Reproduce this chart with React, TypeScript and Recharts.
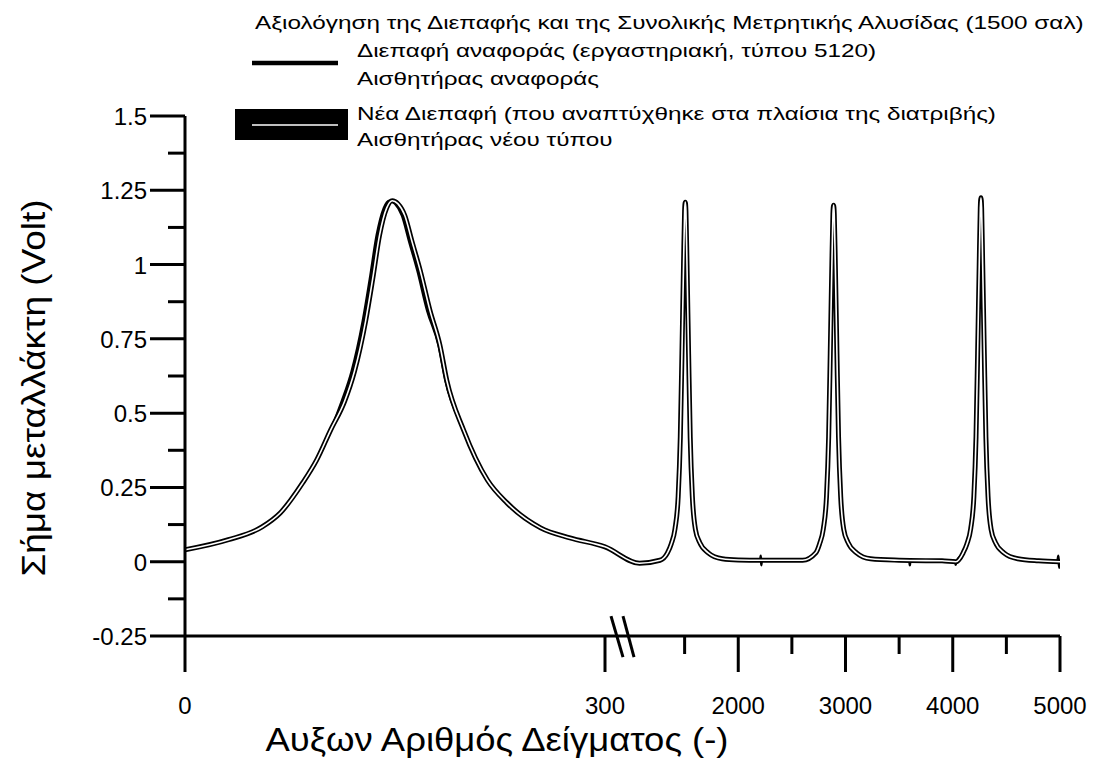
import { LineChart, Line, XAxis, YAxis, ReferenceLine } from "recharts";

const FONT = "'Liberation Sans', Arial, Helvetica, sans-serif";

// x axis is broken: 0-300 on the left part, 1000-5000 on the right part
const LEFT_MAX = 300;
const RIGHT_MIN = 1000;
const RIGHT_MAX = 5000;

const xTickValues = [0, 300, 1500, 2000, 2500, 3000, 3500, 4000, 4500, 5000];
const xTickLabels = ["0", "300", "", "2000", "", "3000", "", "4000", "", "5000"];

const yTickValues = [-0.25, -0.125, 0, 0.125, 0.25, 0.375, 0.5, 0.625, 0.75, 0.875, 1, 1.125, 1.25, 1.375, 1.5];
const yTickLabels = ["-0.25", "", "0", "", "0.25", "", "0.5", "", "0.75", "", "1", "", "1.25", "", "1.5"];

// [sample, volt] — new interface / new sensor
const newLeft: [number, number][] = [
  [0, 0.04], [31, 0.074], [55, 0.117], [68, 0.164], [84, 0.265], [94, 0.342], [104, 0.443],
  [114, 0.54], [121, 0.64], [129, 0.81], [134, 0.95], [139, 1.1], [144, 1.19], [148, 1.215],
  [152, 1.205], [157, 1.165], [162, 1.08], [168, 0.98], [175, 0.845], [182, 0.73], [187, 0.61],
  [199, 0.443], [216, 0.275], [230, 0.198], [254, 0.114], [275, 0.08], [300, 0.05],
];
const newRight: [number, number][] = [
  [1080, -0.005], [1270, 0.005], [1340, 0.03], [1375, 0.06], [1410, 0.11], [1440, 0.22],
  [1460, 0.42], [1475, 0.7], [1490, 1.0], [1500, 1.18], [1506, 1.21], [1512, 1.18], [1522, 1.0],
  [1537, 0.7], [1552, 0.42], [1572, 0.22], [1600, 0.11], [1640, 0.065], [1720, 0.03], [1850, 0.01],
  [2000, 0.006], [2210, 0.005], [2600, 0.005],
  [2723, 0.03], [2758, 0.06], [2793, 0.11], [2823, 0.22], [2843, 0.42], [2858, 0.7], [2873, 1.0],
  [2883, 1.17], [2889, 1.2], [2895, 1.17], [2905, 1.0], [2920, 0.7], [2935, 0.42], [2955, 0.22],
  [2983, 0.11], [3023, 0.065], [3103, 0.03], [3233, 0.01], [3500, 0.005], [3600, 0.004],
  [3900, 0.003], [4030, 0.0],
  [4097, 0.03], [4132, 0.06], [4167, 0.11], [4197, 0.22], [4217, 0.42], [4232, 0.7], [4247, 1.0],
  [4257, 1.19], [4263, 1.225], [4269, 1.19], [4279, 1.0], [4294, 0.7], [4309, 0.42], [4329, 0.22],
  [4357, 0.11], [4397, 0.065], [4477, 0.03], [4607, 0.01], [4800, 0.003], [5000, 0.0],
];

// [sample, volt] — reference interface / reference sensor
const refLeft: [number, number][] = [
  [0, 0.04], [31, 0.074], [55, 0.117], [68, 0.164], [84, 0.265], [94, 0.342], [104, 0.443],
  [112, 0.54], [119, 0.64], [127, 0.81], [132, 0.95], [137, 1.1], [142, 1.19], [146, 1.215],
  [150, 1.205], [155, 1.165], [160, 1.08], [166, 0.98], [173, 0.845], [181, 0.73], [186, 0.61],
  [199, 0.443], [216, 0.275], [230, 0.198], [254, 0.114], [275, 0.08], [300, 0.05],
];
const refRight: [number, number][] = [
  [1080, -0.005], [1270, 0.005], [1340, 0.03], [1375, 0.06], [1410, 0.11], [1440, 0.22],
  [1460, 0.42], [1475, 0.7], [1490, 1.0], [1500, 1.18], [1505, 1.205], [1511, 1.18], [1521, 1.0],
  [1536, 0.7], [1551, 0.42], [1571, 0.22], [1600, 0.11], [1640, 0.065], [1720, 0.03], [1850, 0.01],
  [2000, 0.006], [2205, 0.005], [2210, 0.02], [2215, -0.012], [2220, 0.005], [2600, 0.005],
  [2723, 0.03], [2758, 0.06], [2793, 0.11], [2823, 0.22], [2843, 0.42], [2858, 0.7], [2873, 1.0],
  [2883, 1.17], [2889, 1.2], [2895, 1.17], [2905, 1.0], [2920, 0.7], [2935, 0.42], [2955, 0.22],
  [2983, 0.11], [3023, 0.065], [3103, 0.03], [3233, 0.01], [3500, 0.005], [3595, 0.004],
  [3600, -0.012], [3605, 0.004], [3900, 0.003], [4022, 0.0], [4028, -0.01], [4034, 0.0],
  [4097, 0.03], [4132, 0.06], [4167, 0.11], [4197, 0.22], [4217, 0.42], [4232, 0.7], [4247, 1.0],
  [4257, 1.19], [4262, 1.222], [4268, 1.19], [4279, 1.0], [4294, 0.7], [4309, 0.42], [4329, 0.22],
  [4357, 0.11], [4397, 0.065], [4477, 0.03], [4607, 0.01], [4800, 0.003], [4975, 0.0],
  [4985, 0.02], [4992, -0.02], [5000, 0.0],
];

const legendTitle = "Αξιολόγηση της Διεπαφής και της Συνολικής Μετρητικής Αλυσίδας (1500 σαλ)";
const refLabel = ["Διεπαφή αναφοράς (εργαστηριακή, τύπου 5120)", "Αισθητήρας αναφοράς"];
const newLabel = ["Νέα Διεπαφή (που αναπτύχθηκε στα πλαίσια της διατριβής)", "Αισθητήρας νέου τύπου"];

// plot units along the x axis (1 unit = 1 px)
const LEFT_W = 420;
const RIGHT_START = 446;
const AXIS_END = 875;

function pos(x: number) {
  if (x <= LEFT_MAX) return (x / LEFT_MAX) * LEFT_W;
  return RIGHT_START + ((x - RIGHT_MIN) / (RIGHT_MAX - RIGHT_MIN)) * (AXIS_END - RIGHT_START);
}

const toRows = (pts: [number, number][]) => pts.map(([x, v]) => ({ pos: pos(x), v }));
const newData = toRows([...newLeft, ...newRight]);
const refData = toRows([...refLeft, ...refRight]);
const xTickPos = xTickValues.map(pos);

function XTick(props: any) {
  const { x, y, payload } = props;
  const i = xTickPos.findIndex((p) => Math.abs(p - payload.value) < 0.01);
  const label = xTickLabels[i] ?? "";
  const major = label !== "";
  return (
    <g>
      <line x1={x} y1={y} x2={x} y2={y + (major ? 36 : 18)} stroke="#000" strokeWidth={3} />
      {major && (
        <text x={x} y={y + 78} textAnchor="middle" fontSize={24} fontFamily={FONT} fill="#000">
          {label}
        </text>
      )}
    </g>
  );
}

function YTick(props: any) {
  const { x, y, payload } = props;
  const i = yTickValues.findIndex((v) => Math.abs(v - payload.value) < 1e-6);
  const label = yTickLabels[i] ?? "";
  const major = label !== "";
  return (
    <g>
      <line x1={x - (major ? 35 : 17)} y1={y} x2={x} y2={y} stroke="#000" strokeWidth={3} />
      {major && (
        <text x={x - 38} y={y + 9} textAnchor="end" fontSize={24} fontFamily={FONT} fill="#000">
          {label}
        </text>
      )}
    </g>
  );
}

// legend text is a wide face: draw at 18px and stretch horizontally
const WIDE = 1.35;
function WideText({ x, y, children }: { x: number; y: number; children: string }) {
  return (
    <text x={x} y={y} transform={`matrix(${WIDE},0,0,1,${(1 - WIDE) * x},0)`}>
      {children}
    </text>
  );
}

function LegendBox() {
  return (
    <svg width={1096} height={155} style={{ position: "absolute", left: 0, top: 0 }}>
      <g fontFamily={FONT} fill="#000" fontSize={18}>
        <WideText x={255} y={29}>{legendTitle}</WideText>
        <line x1={252} y1={63} x2={338} y2={63} stroke="#000" strokeWidth={4.5} />
        <WideText x={357} y={57}>{refLabel[0]}</WideText>
        <WideText x={357} y={85}>{refLabel[1]}</WideText>
        <rect x={235} y={109} width={113} height={31} fill="#000" />
        <line x1={252} y1={125} x2={338} y2={125} stroke="#fff" strokeWidth={1.5} />
        <WideText x={357} y={120}>{newLabel[0]}</WideText>
        <WideText x={357} y={146}>{newLabel[1]}</WideText>
      </g>
    </svg>
  );
}

export default function App() {
  return (
    <div style={{ position: "absolute", left: 0, top: 0, width: 1096, height: 760, background: "#fff" }}>
      <LineChart width={1096} height={760} margin={{ top: 116, right: 36, bottom: 0, left: 0 }}>
        <XAxis
          type="number"
          dataKey="pos"
          domain={[0, AXIS_END]}
          ticks={xTickPos}
          interval={0}
          tickSize={0}
          tickMargin={0}
          tickLine={false}
          tick={<XTick />}
          axisLine={{ stroke: "#000", strokeWidth: 3 }}
          height={124}
          allowDataOverflow
          label={{
            content: () => (
              <text
                x={497}
                y={751}
                textAnchor="middle"
                fontSize={34}
                textLength={463}
                lengthAdjust="spacingAndGlyphs"
                fontFamily={FONT}
                fill="#000"
              >
                Αυξων Αριθμός Δείγματος (-)
              </text>
            ),
          }}
        />
        <YAxis
          type="number"
          domain={[-0.25, 1.5]}
          ticks={yTickValues}
          interval={0}
          tickSize={0}
          tickMargin={0}
          tickLine={false}
          tick={<YTick />}
          axisLine={{ stroke: "#000", strokeWidth: 3 }}
          width={185}
          allowDataOverflow
          label={{
            content: () => (
              <text
                x={45}
                y={388}
                transform="rotate(-90 45 388)"
                textAnchor="middle"
                fontSize={34}
                textLength={377}
                lengthAdjust="spacingAndGlyphs"
                fontFamily={FONT}
                fill="#000"
              >
                Σήμα μεταλλάκτη (Volt)
              </text>
            ),
          }}
        />
        <ReferenceLine
          segment={[{ x: 426, y: -0.183 }, { x: 438, y: -0.321 }]}
          stroke="#000"
          strokeWidth={3}
          ifOverflow="visible"
        />
        <ReferenceLine
          segment={[{ x: 438, y: -0.183 }, { x: 449, y: -0.321 }]}
          stroke="#000"
          strokeWidth={3}
          ifOverflow="visible"
        />
        <Line data={refData} dataKey="v" type="monotone" stroke="#000" strokeWidth={2.5} dot={false} isAnimationActive={false} />
        <Line data={newData} dataKey="v" type="monotone" stroke="#000" strokeWidth={5} dot={false} isAnimationActive={false} />
        <Line data={newData} dataKey="v" type="monotone" stroke="#fff" strokeWidth={1.6} dot={false} isAnimationActive={false} />
      </LineChart>
      <LegendBox />
    </div>
  );
}
